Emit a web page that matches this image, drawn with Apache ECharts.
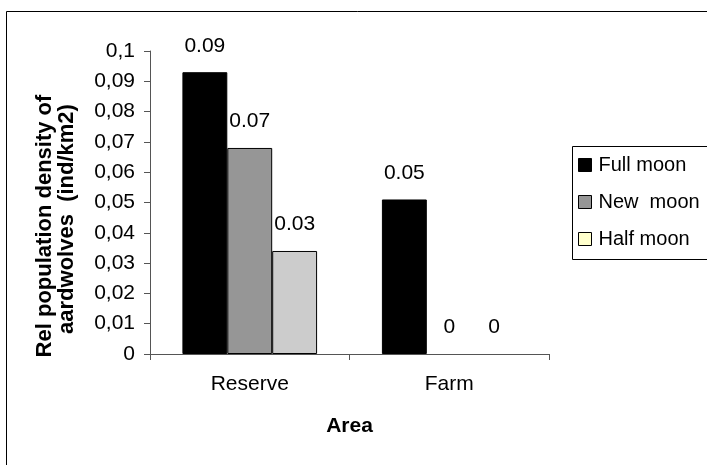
<!DOCTYPE html>
<html><head><meta charset="utf-8">
<script src="https://cdn.jsdelivr.net/npm/echarts@6/dist/echarts.min.js"></script>
<style>html,body{margin:0;padding:0;background:#fff}#c{width:707px;height:465px}</style>
</head><body><div id="c"></div>
<script>
var categories = ['Reserve', 'Farm'];
var seriesNames = ['Full moon', 'New  moon', 'Half moon'];
var fullMoon = [0.093, 0.051];
var newMoon = [0.068, 0];
var halfMoon = [0.034, 0];
var barColors = ['#000000', '#969696', '#cccccc'];
var legendColors = ['#000000', '#969696', '#ffffcc'];
var yTicks = { min: 0, max: 0.1, interval: 0.01 };
var yNameLines = ['Rel population density of', 'aardwolves  (ind/km2)'];

var FONT = 'Liberation Sans, Arial, sans-serif';
var chart = echarts.init(document.getElementById('c'), null, { renderer: 'canvas' });
function mk(name, data, i) {
  return {
    name: name, type: 'bar',
    data: data.map(function (v) { return v === 0 ? { value: v, itemStyle: { borderWidth: 0 } } : v; }),
    barGap: '0%', barCategoryGap: '32.5%',
    itemStyle: { color: barColors[i], borderColor: '#000', borderWidth: 1 },
    label: {
      show: true, position: 'top', distance: 16,
      fontFamily: FONT, fontSize: 21, color: '#000',
      formatter: function (p) { return p.value === 0 ? '0' : p.value.toFixed(2); }
    }
  };
}
function yName(text, x, y) {
  return {
    type: 'text', x: x, y: y, rotation: Math.PI / 2,
    style: {
      text: text, fontFamily: FONT, fontSize: 22, fontWeight: 'bold', fill: '#000',
      align: 'center', verticalAlign: 'middle'
    }
  };
}
chart.setOption({
  backgroundColor: '#fff',
  animation: false,
  grid: { left: 150, top: 51, right: 158, bottom: 111, containLabel: false },
  legend: {
    orient: 'vertical', left: 572, top: 146,
    padding: [9, 6, 9, 6],
    borderWidth: 0,
    itemWidth: 13, itemHeight: 13, itemGap: 17,
    textStyle: { fontFamily: FONT, fontSize: 20, color: '#000', padding: [0, 0, 0, 2] },
    data: seriesNames.map(function (n, i) {
      return { name: n, icon: 'rect', itemStyle: { color: legendColors[i], borderColor: '#000', borderWidth: 1 } };
    })
  },
  xAxis: {
    type: 'category', data: categories,
    axisLine: { lineStyle: { color: '#555', width: 1 } },
    axisTick: { show: true, length: 6, lineStyle: { color: '#555' } },
    axisLabel: { fontFamily: FONT, fontSize: 21, color: '#000', margin: 20 },
    name: 'Area', nameLocation: 'middle', nameGap: 62,
    nameTextStyle: { fontFamily: FONT, fontSize: 21, fontWeight: 'bold', color: '#000' }
  },
  yAxis: {
    type: 'value', min: yTicks.min, max: yTicks.max, interval: yTicks.interval,
    splitLine: { show: false },
    axisLine: { show: true, lineStyle: { color: '#555', width: 1 } },
    axisTick: { show: true, length: 6, lineStyle: { color: '#555' } },
    axisLabel: {
      fontFamily: FONT, fontSize: 21, color: '#000', margin: 15,
      formatter: function (v) { return String(+v.toFixed(2)).replace('.', ','); }
    }
  },
  graphic: [
    { type: 'rect', shape: { x: 6.5, y: 11.5, width: 800, height: 600 }, style: { fill: 'none', stroke: '#000', lineWidth: 1 }, silent: true },
    { type: 'rect', shape: { x: 572.5, y: 146.5, width: 200, height: 113 }, style: { fill: 'none', stroke: '#000', lineWidth: 1 }, silent: true },
    yName(yNameLines[0], 45, 226),
    yName(yNameLines[1], 67, 219)
  ],
  series: [mk(seriesNames[0], fullMoon, 0), mk(seriesNames[1], newMoon, 1), mk(seriesNames[2], halfMoon, 2)]
});
</script></body></html>
